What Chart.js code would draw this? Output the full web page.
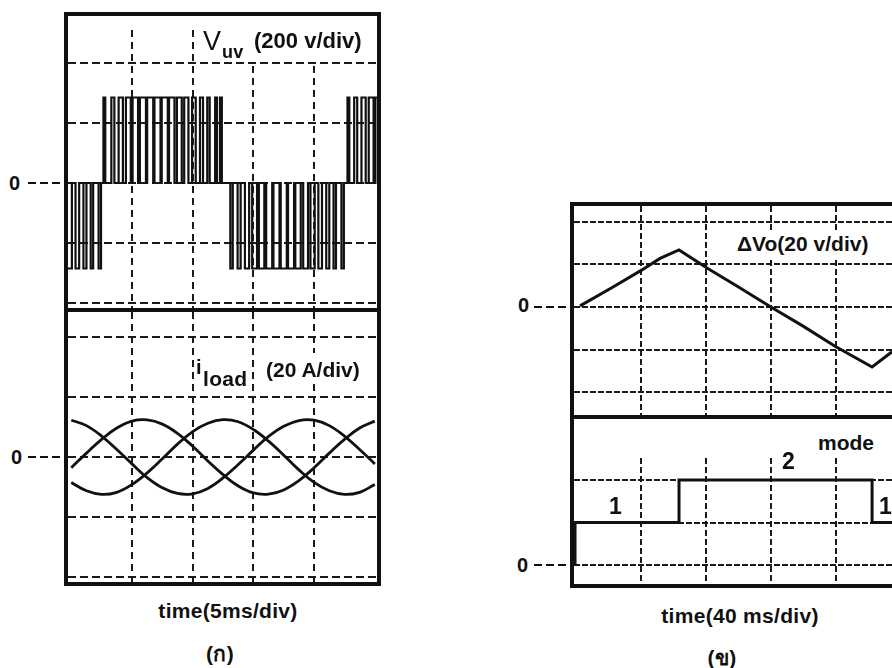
<!DOCTYPE html>
<html>
<head>
<meta charset="utf-8">
<script src="https://cdn.jsdelivr.net/npm/chart.js@4.4.1/dist/chart.umd.min.js"></script>
<style>
    body { margin: 0; width: 892px; height: 668px; overflow: hidden; background: #fff; position: relative; font-family: "Liberation Sans", Arial, sans-serif; color: #111; }
    .box { position: absolute; border: 4px solid #111; box-sizing: border-box; }
    .bar { position: absolute; background: #111; height: 4px; }
    canvas { position: absolute; }
    .t { position: absolute; white-space: nowrap; line-height: 1; font-size: 21px; font-weight: bold; letter-spacing: 0.3px; }
    .zero { position: absolute; line-height: 1; font-size: 20px; font-weight: bold; font-family: "Liberation Sans Narrow", "Liberation Sans", sans-serif; }
    .dash { position: absolute; height: 2px; background: repeating-linear-gradient(90deg, #111 0 8px, transparent 8px 12px); }
    .wipe { position: absolute; background: #fff; }
</style>
</head>
<body>
<div class="box" style="left:64px;top:12px;width:317px;height:574px"></div>
<div class="bar" style="left:64px;top:308px;width:317px"></div>
<canvas id="vuv" width="309" height="278" style="left:68px;top:30px"></canvas>
<canvas id="iload" width="309" height="270" style="left:68px;top:312px"></canvas>

<div class="box" style="left:570px;top:202px;width:340px;height:386px"></div>
<div class="bar" style="left:570px;top:415px;width:340px"></div>
<canvas id="dvo" width="318" height="209" style="left:574px;top:206px"></canvas>
<canvas id="mode" width="318" height="126" style="left:574px;top:458px"></canvas>

<div class="wipe" style="left:199px;top:25px;width:172px;height:36px"></div>
<div class="t" style="left:203px;top:28px;font-size:27px;font-weight:normal">V</div>
<div class="t" style="left:222px;top:43px;font-size:18px">uv</div>
<div class="t" style="left:254px;top:30px;font-size:22px;letter-spacing:0">(200 v/div)</div>

<div class="wipe" style="left:262px;top:353px;width:108px;height:30px"></div>
<div class="t" style="left:196px;top:357px;font-size:20px">i</div>
<div class="t" style="left:203px;top:368px">load</div>
<div class="t" style="left:266px;top:359px;letter-spacing:0">(20 A/div)</div>

<div class="wipe" style="left:733px;top:230px;width:159px;height:28px"></div>
<div class="t" style="left:737px;top:233px;letter-spacing:0">ΔVo(20 v/div)</div>
<div class="t" style="left:818px;top:432px;letter-spacing:0">mode</div>
<div class="t" style="left:782px;top:450px;font-size:23px">2</div>
<div class="t" style="left:609px;top:495px;font-size:23px">1</div>
<div class="t" style="left:879px;top:495px;font-size:23px">1</div>

<div class="zero" style="left:9px;top:173px">0</div><div class="dash" style="left:28px;top:182px;width:34px"></div>
<div class="zero" style="left:11px;top:447px">0</div><div class="dash" style="left:28px;top:456px;width:34px"></div>
<div class="zero" style="left:518px;top:295px">0</div><div class="dash" style="left:534px;top:306px;width:36px"></div>
<div class="zero" style="left:517px;top:555px">0</div><div class="dash" style="left:534px;top:564px;width:34px"></div>

<div class="t" style="left:128px;top:600px;width:200px;text-align:center">time(5ms/div)</div>
<div class="t" style="left:170px;top:643px;width:100px;text-align:center">(ก)</div>
<div class="t" style="left:640px;top:605px;width:200px;text-align:center">time(40 ms/div)</div>
<div class="t" style="left:672px;top:647px;width:100px;text-align:center">(ข)</div>

<script>
// (ก) 5 ms/div, V_uv 200 V/div, i_load 20 A/div
var timeGridA = [5, 10, 15, 20]
var voltGrid = [-400, -200, 0, 200, 400]
var currGrid = [-40, -20, 0, 20, 40]

var pwmLevel = 285
var posPulses = [[2.65, 2.8], [3.3, 3.55], [3.9, 4.25], [4.5, 4.9], [5.05, 5.5], [5.65, 6.15], [6.25, 6.75],
    [6.85, 7.35], [7.45, 7.95], [8.05, 8.5], [8.7, 9.1], [9.3, 9.65], [9.95, 10.25], [10.6, 10.85],
    [11.2, 11.4], [11.85, 12.0], [12.25, 12.4],
    [22.75, 22.9], [23.3, 23.55], [23.9, 24.25], [24.5, 24.9], [25.05, 25.3]]
var negPulses = [[-0.3, 0.05], [0.35, 0.65], [1.0, 1.25], [1.6, 1.8], [2.25, 2.45],
    [13.1, 13.3], [13.7, 13.95], [14.3, 14.65], [14.9, 15.3], [15.45, 15.9], [16.05, 16.55], [16.65, 17.15],
    [17.25, 17.75], [17.85, 18.35], [18.45, 18.9], [19.1, 19.5], [19.7, 20.05], [20.35, 20.65],
    [21.0, 21.25], [21.6, 21.8], [22.25, 22.45]]

var iTime = [0, 1.25, 2.5, 3.75, 5, 6.25, 7.5, 8.75, 10, 11.25, 12.5, 13.75, 15, 16.25, 17.5, 18.75, 20, 21.25, 22.5, 23.75, 25]
var iPhaseA = [-3.6, 1.3, 5.9, 9.7, 12.0, 12.4, 11.0, 7.9, 3.6, -1.3, -5.9, -9.7, -12.0, -12.4, -11.0, -7.9, -3.6, 1.3, 5.9, 9.7, 12.0]
var iPhaseB = [-8.5, -11.3, -12.5, -11.8, -9.2, -5.3, -0.6, 4.3, 8.5, 11.3, 12.5, 11.8, 9.2, 5.3, 0.6, -4.3, -8.5, -11.3, -12.5, -11.8, -9.2]
var iPhaseC = [12.3, 10.5, 7.0, 2.5, -2.3, -6.9, -10.3, -12.2, -12.3, -10.5, -7.0, -2.5, 2.3, 6.9, 10.3, 12.2, 12.3, 10.5, 7.0, 2.5, -2.3]

// (ข) 40 ms/div, dVo 20 V/div, mode
var timeGridB = [40, 80, 120, 160]
var dvGrid = [-40, -20, 0, 20, 40]
var modeGrid = [0, 1, 2]
var dvTime = [2.5, 22.8, 40.6, 51.7, 63.4, 80.6, 100, 119.4, 140, 159.4, 182.2, 194.5]
var dvValue = [0.5, 9.4, 17.4, 22.8, 26.8, 18.3, 9.4, 0.2, -9.1, -18.4, -28.2, -21]
var modeTime = [-0.6, 63.4, 182.2, 200]
var modeValue = [1, 2, 1]

function axis(min, max, grid, dash) {
    return {
        type: 'linear',
        min: min,
        max: max,
        afterBuildTicks: function (scale) {
            scale.ticks = grid.map(v => ({ value: v }))
        },
        ticks: { display: false },
        grid: { color: '#1a1a1a', lineWidth: 2, drawTicks: false, borderDash: dash },
        border: { display: false, dash: dash }
    }
}

function scope(id, xAxis, yAxis, datasets) {
    new Chart(document.getElementById(id), {
        type: 'line',
        data: { datasets: datasets },
        options: {
            responsive: false,
            animation: false,
            events: [],
            layout: { padding: 0 },
            plugins: {
                legend: { display: false },
                tooltip: { enabled: false }
            },
            elements: {
                point: { radius: 0 },
                line: { borderColor: '#111', fill: false }
            },
            scales: { x: xAxis, y: yAxis }
        }
    });
}

function pairs(xs, ys) {
    return xs.map((x, i) => ({ x: x, y: ys[i] }))
}

// pulse train from the pulse edges
var pulses = posPulses.map(p => [p[0], p[1], pwmLevel])
    .concat(negPulses.map(p => [p[0], p[1], -pwmLevel]))
    .sort((a, b) => a[0] - b[0])
var pwmPoints = []
pulses.forEach(p => {
    pwmPoints.push({ x: p[0], y: 0 }, { x: p[0], y: p[2] }, { x: p[1], y: p[2] }, { x: p[1], y: 0 })
})

var modePoints = [{ x: modeTime[0], y: 0 }]
for (let i = 0; i < modeValue.length; i++) {
    modePoints.push({ x: modeTime[i], y: modeValue[i] })
    modePoints.push({ x: modeTime[i + 1], y: modeValue[i] })
}

scope('vuv', axis(-0.27, 25.18, timeGridA, [7, 5]), axis(-416.7, 510, voltGrid, [8, 4]), [
    { data: pwmPoints, borderWidth: 2.2, tension: 0 }
]);

scope('iload', axis(-0.27, 25.18, timeGridA, [7, 5]), axis(-41.8, 48.5, currGrid, [8, 4]), [
    { data: pairs(iTime, iPhaseA), borderWidth: 2.8, tension: 0.4 },
    { data: pairs(iTime, iPhaseB), borderWidth: 2.8, tension: 0.4 },
    { data: pairs(iTime, iPhaseC), borderWidth: 2.8, tension: 0.4 }
]);

scope('dvo', axis(-1.23, 194.46, timeGridB, [6, 3]), axis(-50.7, 47.4, dvGrid, [6, 2]), [
    { data: pairs(dvTime, dvValue), borderWidth: 3, tension: 0 }
]);

scope('mode', axis(-1.23, 194.46, timeGridB, [6, 3]), axis(-0.447, 2.52, modeGrid, [6, 2]), [
    { data: modePoints, borderWidth: 3, tension: 0 }
]);
</script>
</body>
</html>
